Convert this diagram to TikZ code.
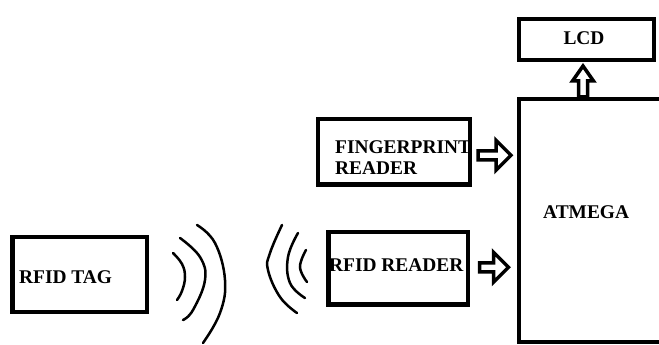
\documentclass[tikz,border=0pt]{standalone}
\usepackage{fontspec}
\setmainfont{Liberation Serif}
\usetikzlibrary{calc}
\newcommand{\fatarrow}[4]{\draw[hollow, shift={#1}, rotate=#2] (0,-4.5) -- (#3-15,-4.5) -- (#3-15,-#4) -- (#3,0) -- (#3-15,#4) -- (#3-15,4.5) -- (0,4.5) -- cycle;}
\begin{document}
\begin{tikzpicture}[x=1pt, y=-1pt,
  blk/.style={draw, line width=4.5pt, outer sep=0pt, inner sep=0pt, anchor=north west},
  txt/.style={font=\bfseries\fontsize{19.4}{21}\selectfont, inner sep=0pt},
  hollow/.style={draw, line width=3.5pt, fill=white, line join=miter},
  wave/.style={line width=2.5pt, line cap=round}]
  \clip (0,0) rectangle (659,345);
  \node[blk, minimum width=200, minimum height=243] (atmega) at (519,99) {};
  \node[blk, minimum width=135, minimum height=41] (lcd) at (519,19) {};
  \node[blk, minimum width=152, minimum height=65.5] (finger) at (318,119) {};
  \node[blk, minimum width=139.5, minimum height=72.5] (reader) at (328.5,232) {};
  \node[blk, minimum width=134.5, minimum height=75] (tag) at (12.5,237) {};
  \node[txt] (lcdtxt) at (584,38.5) {LCD};
  \node[txt, anchor=west] (atmegatxt) at (543,212) {ATMEGA};
  \node[txt, anchor=west, align=left] (fingertxt) at (335,157.5) {FINGERPRINT\\READER};
  \node[txt, anchor=west] (readertxt) at (329,265) {RFID READER};
  \node[txt, anchor=west] (tagtxt) at (19,277) {RFID TAG};
  \fatarrow{($(finger.east)+(8,3.5)$)}{0}{33}{15}
  \fatarrow{($(reader.east)+(11.5,-1)$)}{0}{29}{15}
  \fatarrow{($(atmega.north west)+(64,-2)$)}{90}{31}{10.5}
  \draw[wave] plot[smooth, tension=0.7] coordinates {(173,253) (182,264) (185,277) (182,291) (177,300)};
  \draw[wave] plot[smooth, tension=0.7] coordinates {(180,238) (200,257) (205,280) (193,310) (183,320)};
  \draw[wave] plot[smooth, tension=0.7] coordinates {(197,225) (215,243) (225,280) (220,313) (203,343)};
  \draw[wave] plot[smooth, tension=0.7] coordinates {(282,225) (270,253) (268,270) (280,297) (297,313)};
  \draw[wave] plot[smooth, tension=0.7] coordinates {(298,233) (288,257) (290,283) (305,298)};
  \draw[wave] plot[smooth, tension=0.7] coordinates {(306,250) (300,267) (307,282)};
\end{tikzpicture}
\end{document}
